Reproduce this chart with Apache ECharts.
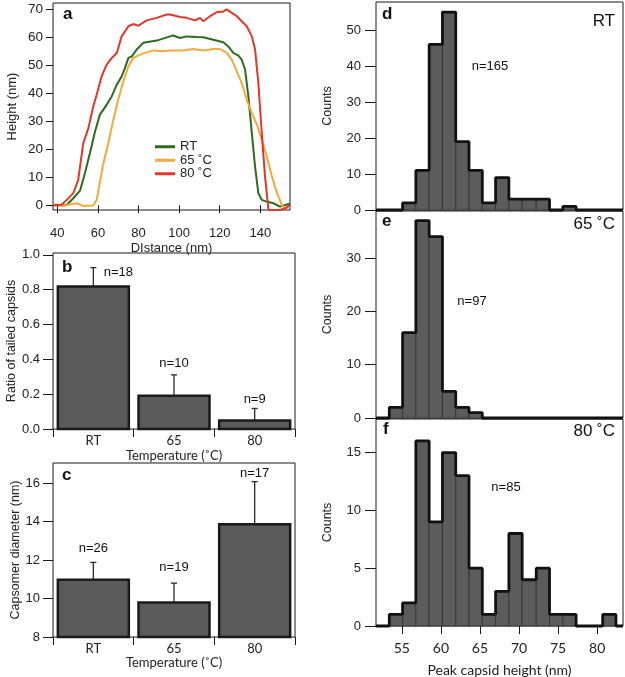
<!DOCTYPE html>
<html>
<head>
<meta charset="utf-8">
<script src="https://cdn.jsdelivr.net/npm/echarts@6/dist/echarts.min.js"></script>
<style>
  html, body { margin: 0; padding: 0; background: #fff; }
  #main { width: 625px; height: 677px; }
</style>
</head>
<body>
<div id="main"></div>
<script>
// panel a: height profiles [distance nm, height nm]
const rtProfile = [[38,0],[42,0],[44.6,0.1],[47.9,2.5],[51.2,5.2],[53.6,11.4],[56.1,18.6],[58.6,26.3],[61,32.3],[64.3,35.8],[66.8,38.8],[69.3,43],[71.7,45.9],[73.3,48.9],[75,52.5],[76.7,53.1],[79.1,55.5],[82.4,57.9],[89,58.7],[95.5,60.2],[97,60.5],[100.4,59.6],[103.7,60.2],[108.6,60],[111.9,59.9],[116.8,59],[121.8,58.1],[124.2,56.6],[126.7,54.3],[129.2,53.3],[130.8,51.9],[132.5,48.3],[134.1,38.8],[135.8,25.7],[137.4,13.8],[139,4.3],[140.7,1.9],[143.1,1.3],[146.4,0.7],[149.7,-0.5],[152.2,0.1],[154.6,0.5]];
const p65Profile = [[38,0.3],[40,0.2],[43,-0.3],[46,0.3],[49.6,0.7],[52.8,-0.3],[55,-0.2],[57.7,-0.1],[59.4,1.9],[61,8.4],[62.7,15],[65.1,22.1],[67.6,30.5],[70,37.6],[72.5,44.1],[75,49.5],[77.4,52.5],[80.7,53.7],[84,54.5],[87.3,55.2],[92.2,54.9],[95.5,55.2],[102.1,55.2],[107,55.7],[111.9,55.2],[116.8,55.7],[120.1,55.7],[123.4,54.3],[125.9,51.9],[128.4,47.7],[130.8,43.6],[133.3,37.6],[135.8,32.9],[138.3,28.7],[140.7,23.3],[143.2,17.4],[145.7,10.2],[148.2,4.3],[150.6,0.1],[152.2,-1.1],[154.6,-0.5]];
const p80Profile = [[38,0],[42,0.2],[43.8,1.3],[47.9,4.3],[50.3,9],[52.8,22.1],[55.3,27.5],[57.7,35.2],[59.4,39.4],[61.8,45.9],[64.3,50.1],[66.8,52.5],[69.3,54.3],[71.7,60.2],[75,63.8],[77.4,64.6],[79.9,64],[84,65.9],[89,66.8],[93.9,68],[95.5,68],[100.4,67.1],[103.7,66.8],[107.8,65.9],[110.3,66.8],[111.9,65.6],[115.2,67.4],[118.5,68.8],[121.8,69.1],[123.4,69.8],[125.9,68.6],[128.4,67.4],[130.8,65.6],[133.3,63.8],[135.8,60.2],[137.4,55.5],[139,43.6],[140.7,25.7],[142.3,10.2],[144,-1.7],[149.7,-1.7],[152.2,-1.1],[154.6,0.1]];
const distTicks = [40, 60, 80, 100, 120, 140];
const heightTicks = [0, 10, 20, 30, 40, 50, 60, 70];

// panels b, c
const tempCats = ['RT', '65', '80'];
const tailRatio = [0.818, 0.191, 0.049];
const tailRatioErr = [0.927, 0.311, 0.118];
const tailN = ['n=18', 'n=10', 'n=9'];
const tailNAt = [0.897, 0.375, 0.168];
const ratioTicks = [0, 0.2, 0.4, 0.6, 0.8, 1.0];
const capsomerDia = [10.98, 9.8, 13.87];
const capsomerDiaErr = [11.88, 10.8, 16.08];
const capsomerN = ['n=26', 'n=19', 'n=17'];
const capsomerNAt = [12.6, 11.6, 16.5];
const diaTicks = [8, 10, 12, 14, 16];

// panels d, e, f: histogram of peak capsid height
const binEdges = [53.4, 55.1, 56.8, 58.5, 60.2, 61.9, 63.6, 65.3, 67.0, 68.7, 70.4, 72.2, 73.9, 75.6, 77.3, 79.0, 80.7, 82.4];
const countsRT = [0, 2, 11, 46, 55, 19, 11, 2, 9, 3, 3, 3, 0, 1, 0, 0, 0];
const counts65 = [2, 16, 37, 34, 5, 2, 1, 0, 0, 0, 0, 0, 0, 0, 0, 0, 0];
const counts80 = [1, 2, 16, 9, 15, 13, 5, 1, 3, 8, 4, 5, 1, 1, 0, 0, 1];
const peakTicks = [55, 60, 65, 70, 75, 80];
const countTicksRT = [0, 10, 20, 30, 40, 50];
const countTicks65 = [0, 10, 20, 30];
const countTicks80 = [0, 5, 10, 15];

const HMIN = 51.7, HMAX = 83.3;
const helv = 'Liberation Sans';
const aven = 'Lato';
const ink = '#1a1a1a';

const chart = echarts.init(document.getElementById('main'));

function gridBox(left, top, width, height) {
  return { left, top, width, height, show: true, borderColor: ink, borderWidth: 1,
    backgroundColor: 'transparent', containLabel: false, outerBoundsMode: 'none' };
}

function valAxis(gridIndex, min, max, ticks, extra) {
  return Object.assign({
    type: 'value', gridIndex, min, max,
    splitLine: { show: false },
    axisLine: { show: false },
    axisTick: { show: true, inside: false, length: 8, customValues: ticks, lineStyle: { color: ink, width: 1 } },
    axisLabel: { show: true, customValues: ticks, color: '#222', fontFamily: helv, fontSize: 13, margin: 15 },
    nameLocation: 'middle',
    nameTextStyle: { color: '#222', fontFamily: helv, fontSize: 12.5 }
  }, extra || {});
}

// bars drawn from the axis floor so they keep a bottom outline
function barSeries(xi, yi, values, floor) {
  return {
    type: 'custom', xAxisIndex: xi, yAxisIndex: yi,
    data: values.map((v, i) => [i, v]),
    renderItem: (params, api) => {
      const top = api.coord([api.value(0), api.value(1)]);
      const bottom = api.coord([api.value(0), floor]);
      const w = api.size([1, 0])[0] * 0.88;
      return { type: 'rect', shape: { x: top[0] - w / 2, y: top[1], width: w, height: bottom[1] - top[1] },
        style: { fill: '#5a5a5a', stroke: ink, lineWidth: 2.5 }, z2: 2 };
    }
  };
}

function errSeries(xi, yi, values, upper) {
  return {
    type: 'custom', xAxisIndex: xi, yAxisIndex: yi,
    data: values.map((v, i) => [i, v, upper[i]]),
    renderItem: (params, api) => {
      const a = api.coord([api.value(0), api.value(1)]);
      const b = api.coord([api.value(0), api.value(2)]);
      const st = { stroke: '#2a2a2a', lineWidth: 1.3 };
      return { type: 'group', children: [
        { type: 'line', shape: { x1: a[0], y1: a[1], x2: b[0], y2: b[1] }, style: st },
        { type: 'line', shape: { x1: b[0] - 3, y1: b[1], x2: b[0] + 3, y2: b[1] }, style: st }
      ] };
    }
  };
}

function nSeries(xi, yi, labels, at, offsets) {
  return {
    type: 'scatter', xAxisIndex: xi, yAxisIndex: yi, symbolSize: 1, silent: true,
    itemStyle: { opacity: 1, color: 'rgba(0,0,0,0)' },
    data: labels.map((t, i) => ({ value: [i, at[i]], label: { offset: [offsets[i], 0] } })),
    label: { show: true, position: 'inside', formatter: p => labels[p.dataIndex],
      color: '#111', opacity: 1, fontFamily: helv, fontSize: 13 }
  };
}

function histBars(xi, yi, counts) {
  return {
    type: 'custom', xAxisIndex: xi, yAxisIndex: yi,
    data: counts.map((c, i) => [binEdges[i], binEdges[i + 1], c]).filter(d => d[2] > 0),
    renderItem: (params, api) => {
      const p0 = api.coord([api.value(0), api.value(2)]);
      const p1 = api.coord([api.value(1), 0]);
      return { type: 'rect', shape: { x: p0[0], y: p0[1], width: p1[0] - p0[0], height: p1[1] - p0[1] },
        style: { fill: '#5c5c5c', stroke: '#2e2e2e', lineWidth: 0.8 } };
    }
  };
}

function histOutline(xi, yi, counts) {
  const pts = [[HMIN, 0]];
  counts.forEach((c, i) => {
    const prev = i === 0 ? 0 : counts[i - 1];
    pts.push([binEdges[i], prev]);
    pts.push([binEdges[i], c]);
  });
  pts.push([binEdges[binEdges.length - 1], counts[counts.length - 1]]);
  pts.push([binEdges[binEdges.length - 1], 0]);
  pts.push([HMAX, 0]);
  return {
    type: 'line', xAxisIndex: xi, yAxisIndex: yi, data: pts, showSymbol: false, silent: true,
    lineStyle: { color: '#111', width: 2.8 }, z: 5, clip: false
  };
}

function txt(x, y, text, size, opts) {
  return { type: 'text', x, y,
    style: Object.assign({ text, fill: '#111', fontFamily: helv, fontSize: size }, (opts && opts.style) || {}) };
}

const option = {
  animation: false,
  backgroundColor: '#fff',
  grid: [
    gridBox(53, 3, 237, 207),
    gridBox(53, 253, 242, 176),
    gridBox(53, 463, 242, 174),
    gridBox(376, 2, 247, 208),
    gridBox(376, 211, 247, 207),
    gridBox(376, 419, 247, 207)
  ],
  legend: {
    left: 150, top: 135, orient: 'vertical', itemGap: 0, itemWidth: 20, itemHeight: 3, icon: 'rect',
    data: ['RT', '65 ˚C', '80 ˚C'],
    textStyle: { fontFamily: helv, fontSize: 13, color: '#222', lineHeight: 13.5 }
  },
  xAxis: [
    valAxis(0, 37.9, 154.6, distTicks, { name: 'DIstance (nm)', nameGap: 32,
      axisLabel: { customValues: distTicks, color: '#222', fontFamily: helv, fontSize: 13, margin: 17 },
      nameTextStyle: { color: '#222', fontFamily: helv, fontSize: 13 } }),
    { type: 'category', gridIndex: 1, data: tempCats, name: 'Temperature (˚C)', nameLocation: 'middle', nameGap: 20,
      axisLine: { show: false }, axisTick: { show: true, length: 8, lineStyle: { color: ink } },
      axisLabel: { color: '#222', fontFamily: aven, fontSize: 13, margin: 5 },
      nameTextStyle: { color: '#222', fontFamily: aven, fontSize: 13 } },
    { type: 'category', gridIndex: 2, data: tempCats, name: 'Temperature (˚C)', nameLocation: 'middle', nameGap: 17,
      axisLine: { show: false }, axisTick: { show: true, length: 8, lineStyle: { color: ink } },
      axisLabel: { color: '#222', fontFamily: aven, fontSize: 13, margin: 5 },
      nameTextStyle: { color: '#222', fontFamily: aven, fontSize: 13 } },
    valAxis(3, HMIN, HMAX, peakTicks, { axisTick: { show: false }, axisLabel: { show: false } }),
    valAxis(4, HMIN, HMAX, peakTicks, { axisTick: { show: false }, axisLabel: { show: false } }),
    valAxis(5, HMIN, HMAX, peakTicks, { name: 'Peak capsid height (nm)', nameGap: 37,
      axisLabel: { customValues: peakTicks, color: '#222', fontFamily: aven, fontSize: 14, margin: 15 },
      nameTextStyle: { color: '#222', fontFamily: aven, fontSize: 14 } })
  ],
  yAxis: [
    valAxis(0, -1.7, 72.1, heightTicks, { name: 'Height (nm)', nameGap: 34,
      axisTick: { show: true, length: 7, customValues: heightTicks, lineStyle: { color: ink } },
      axisLabel: { customValues: heightTicks, color: '#222', fontFamily: helv, fontSize: 13.5, margin: 10 },
      nameTextStyle: { color: '#222', fontFamily: helv, fontSize: 13 } }),
    valAxis(1, 0, 1.011, ratioTicks, { name: 'Ratio of tailed capsids', nameGap: 34,
      axisTick: { show: true, length: 10, customValues: ratioTicks, lineStyle: { color: ink } },
      axisLabel: { customValues: ratioTicks, color: '#222', fontFamily: helv, fontSize: 13, margin: 13,
        formatter: v => v.toFixed(1) } }),
    valAxis(2, 8, 17.05, diaTicks, { name: 'Capsomer diameter (nm)', nameGap: 31,
      axisTick: { show: true, length: 10, customValues: diaTicks, lineStyle: { color: ink } },
      axisLabel: { customValues: diaTicks, color: '#222', fontFamily: helv, fontSize: 13, margin: 13 } }),
    valAxis(3, 0, 57.8, countTicksRT, { name: 'Counts', nameGap: 42,
      axisTick: { show: true, length: 11, customValues: countTicksRT, lineStyle: { color: ink } } }),
    valAxis(4, 0, 38.8, countTicks65, { name: 'Counts', nameGap: 42,
      axisTick: { show: true, length: 11, customValues: countTicks65, lineStyle: { color: ink } } }),
    valAxis(5, 0, 17.9, countTicks80, { name: 'Counts', nameGap: 42,
      axisTick: { show: true, length: 11, customValues: countTicks80, lineStyle: { color: ink } } })
  ],
  series: [
    { name: 'RT', type: 'line', xAxisIndex: 0, yAxisIndex: 0, data: rtProfile, showSymbol: false,
      color: '#2f6b1f', lineStyle: { width: 2, color: '#2f6b1f' } },
    { name: '65 ˚C', type: 'line', xAxisIndex: 0, yAxisIndex: 0, data: p65Profile, showSymbol: false,
      color: '#f2aa3c', lineStyle: { width: 2, color: '#f2aa3c' } },
    { name: '80 ˚C', type: 'line', xAxisIndex: 0, yAxisIndex: 0, data: p80Profile, showSymbol: false,
      color: '#e2382b', lineStyle: { width: 2, color: '#e2382b' } },

    errSeries(1, 1, tailRatio, tailRatioErr),
    barSeries(1, 1, tailRatio, 0),
    nSeries(1, 1, tailN, tailNAt, [25, 0, 0]),

    errSeries(2, 2, capsomerDia, capsomerDiaErr),
    barSeries(2, 2, capsomerDia, 8),
    nSeries(2, 2, capsomerN, capsomerNAt, [0, 0, 0]),

    histBars(3, 3, countsRT), histOutline(3, 3, countsRT),
    histBars(4, 4, counts65), histOutline(4, 4, counts65),
    histBars(5, 5, counts80), histOutline(5, 5, counts80)
  ],
  graphic: [
    txt(63, 6, 'a', 17, { style: { fontWeight: 'bold' } }),
    txt(62, 259, 'b', 17, { style: { fontWeight: 'bold' } }),
    txt(62, 467, 'c', 17, { style: { fontWeight: 'bold' } }),
    txt(382, 6, 'd', 17, { style: { fontWeight: 'bold' } }),
    txt(382, 213, 'e', 17, { style: { fontWeight: 'bold' } }),
    txt(383, 421, 'f', 17, { style: { fontWeight: 'bold' } }),
    txt(615, 13, 'RT', 17, { style: { textAlign: 'right' } }),
    txt(615, 216, '65 ˚C', 17, { style: { textAlign: 'right' } }),
    txt(615, 423, '80 ˚C', 17, { style: { textAlign: 'right' } }),
    txt(490, 66, 'n=165', 13, { style: { textAlign: 'center', textVerticalAlign: 'middle' } }),
    txt(472, 301, 'n=97', 13, { style: { textAlign: 'center', textVerticalAlign: 'middle' } }),
    txt(506, 487, 'n=85', 13, { style: { textAlign: 'center', textVerticalAlign: 'middle' } })
  ]
};

chart.setOption(option);
</script>
</body>
</html>
